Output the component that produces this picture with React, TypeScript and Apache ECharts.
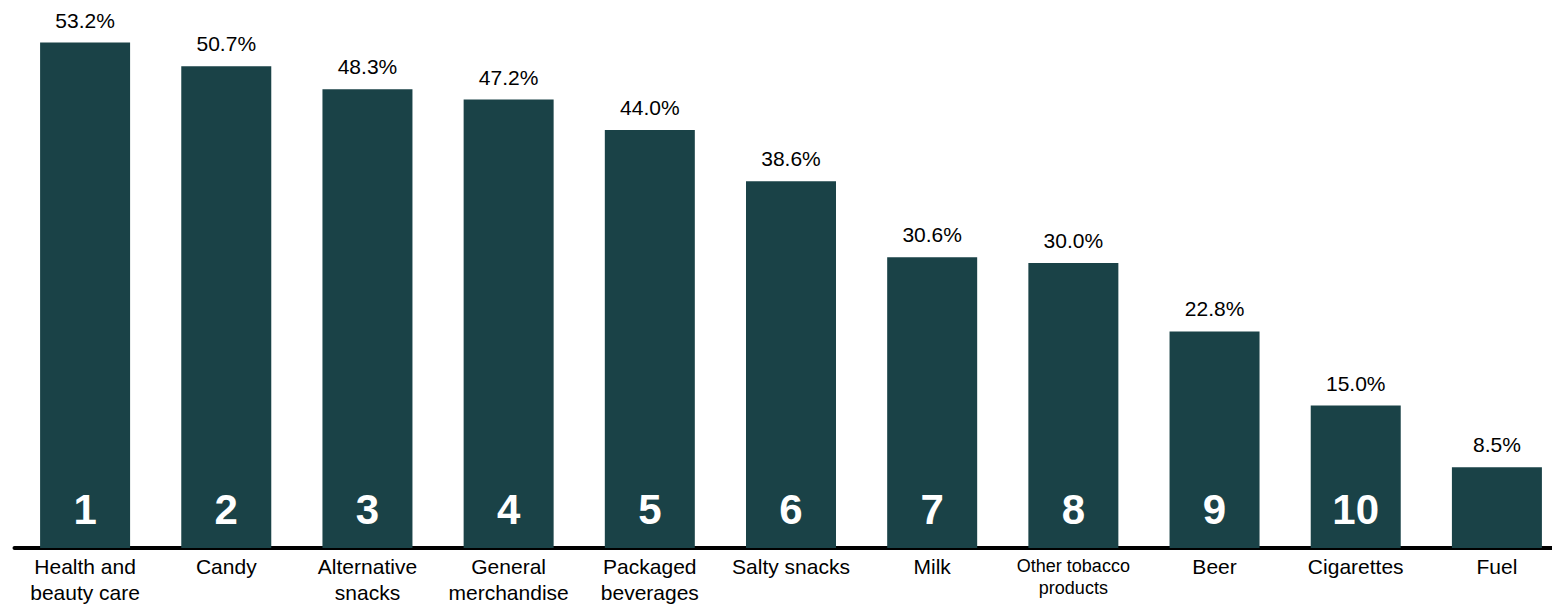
import React, { useEffect, useRef } from "react";
import * as echarts from "echarts";

const categories = [
  "Health and\nbeauty care",
  "Candy",
  "Alternative\nsnacks",
  "General\nmerchandise",
  "Packaged\nbeverages",
  "Salty snacks",
  "Milk",
  "Other tobacco\nproducts",
  "Beer",
  "Cigarettes",
  "Fuel",
];
const values = [53.2, 50.7, 48.3, 47.2, 44.0, 38.6, 30.6, 30.0, 22.8, 15.0, 8.5];
const ranks = ["1", "2", "3", "4", "5", "6", "7", "8", "9", "10", ""];

const FONT = "'Liberation Sans', Arial, Helvetica, sans-serif";
const BAR = "#1a4247";

export default function App() {
  const ref = useRef<HTMLDivElement>(null);
  useEffect(() => {
    if (!ref.current) return;
    const chart = echarts.init(ref.current, undefined, { renderer: "svg" });
    chart.setOption({
      animation: false,
      grid: { left: 14.5, width: 1553, top: 16, bottom: 57, outerBoundsMode: "none", containLabel: false },
      xAxis: {
        type: "category",
        data: categories,
        axisLine: { show: true, lineStyle: { color: "#000", width: 4 } },
        axisTick: { show: false },
        axisLabel: {
          interval: 0,
          color: "#000",
          fontFamily: FONT,
          fontSize: 21,
          lineHeight: 26,
          margin: 5,
          formatter: (v: string) => {
            if (!v.startsWith("Other tobacco")) return v;
            const [a, b] = v.split("\n");
            return `{s1|${a}}\n{s2|${b}}`;
          },
          rich: {
            s1: { fontSize: 18, lineHeight: 26, fontFamily: FONT, color: "#000" },
            s2: { fontSize: 18, lineHeight: 18, fontFamily: FONT, color: "#000" },
          },
        },
      },
      yAxis: {
        type: "value",
        min: 0,
        max: 56,
        show: false,
        splitLine: { show: false },
      },
      series: [
        {
          type: "bar",
          data: values,
          barWidth: 90,
          itemStyle: { color: BAR },
          z: 1,
          label: {
            show: true,
            position: "top",
            distance: 12,
            color: "#000",
            fontFamily: FONT,
            fontSize: 21,
            formatter: (p: any) => `${Number(p.value).toFixed(1)}%`,
          },
        },
        {
          type: "bar",
          data: values,
          barWidth: 90,
          barGap: "-100%",
          itemStyle: { color: "rgba(0,0,0,0)" },
          z: 2,
          label: {
            show: true,
            position: "insideBottom",
            distance: 18,
            color: "#fff",
            fontFamily: FONT,
            fontWeight: "bold",
            fontSize: 42,
            formatter: (p: any) => ranks[p.dataIndex],
          },
        },
      ],
    });
    return () => chart.dispose();
  }, []);
  return (
    <div
      ref={ref}
      style={{ position: "absolute", left: 0, top: 0, width: 1552, height: 605 }}
    />
  );
}
